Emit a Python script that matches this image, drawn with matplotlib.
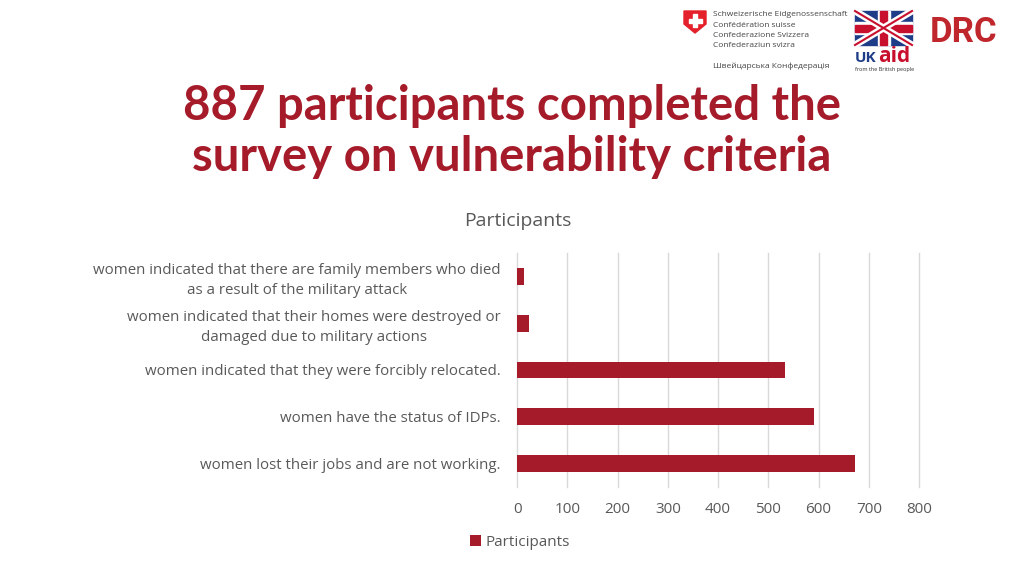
import matplotlib
matplotlib.use("Agg")
import matplotlib.pyplot as plt
from matplotlib.patches import Rectangle, Polygon

categories = [
    "women indicated that there are family members who died\nas a result of the military attack",
    "women indicated that their homes were destroyed or\ndamaged due to military actions",
    "women indicated that they were forcibly relocated.",
    "women have the status of IDPs.",
    "women lost their jobs and are not working.",
]
values = [14, 24, 533, 591, 672]
xticks = [0, 100, 200, 300, 400, 500, 600, 700, 800]
series_name = "Participants"

bar_color = "#A61B29"
text_gray = "#595959"
plt.rcParams['font.family'] = ['Open Sans', 'DejaVu Sans']

fig = plt.figure(figsize=(10.24, 5.76), dpi=100)
ax = fig.add_axes([0.505, 0.1545, 0.3925, 0.4065])

ypos = list(range(len(categories)))
ax.barh(ypos, values, height=0.36, color=bar_color, label=series_name)
ax.set_ylim(len(categories) - 0.5, -0.5)
ax.set_xlim(0, 800)
ax.set_xticks(xticks)
ax.set_xticklabels([str(t) for t in xticks], color=text_gray, fontsize=11)
ax.set_yticks(ypos)
ax.set_yticklabels(categories, color=text_gray, fontsize=10.8, linespacing=1.4,
                   multialignment='center')
ax.tick_params(axis='x', length=0, pad=11)
ax.tick_params(axis='y', length=0, pad=12)
for s in ax.spines.values():
    s.set_visible(False)
ax.grid(axis='x', color="#D9D9D9", linewidth=1)
for gl in ax.get_xgridlines():
    gl.set_clip_on(False)
ax.set_axisbelow(True)

fig.text(0.506, 0.617, "Participants", ha='center', va='center', fontsize=14, color=text_gray)

leg = fig.legend(loc='center', bbox_to_anchor=(0.508, 0.058), frameon=False, fontsize=11,
                 handlelength=0.7, handleheight=0.7, handletextpad=0.3)
for t in leg.get_texts():
    t.set_color(text_gray)

fig.text(0.5, 0.772, "887 participants completed the\nsurvey on vulnerability criteria",
         ha='center', va='center', fontsize=34, fontweight='bold', color="#A61B29",
         family=['Lato', 'DejaVu Sans'], linespacing=1.2)

# Logos (approximate)
lax = fig.add_axes([0, 0, 1, 1], zorder=-1)
lax.set_xlim(0, 1024)
lax.set_ylim(576, 0)
lax.axis('off')
# Swiss shield
lax.add_patch(Polygon([[684, 11], [706, 11], [706, 24], [695, 33], [684, 24]], closed=True,
                      color="#E4202A"))
lax.add_patch(Rectangle((693, 14), 4, 13, color='white'))
lax.add_patch(Rectangle((688.5, 18.5), 13, 4, color='white'))
swiss = ["Schweizerische Eidgenossenschaft", "Confédération suisse",
         "Confederazione Svizzera", "Confederaziun svizra"]
for i, s in enumerate(swiss):
    lax.text(713, 15 + i * 10.3, s, fontsize=6, color="#444444", va='center')
lax.text(713, 66, "Швейцарська Конфедерація", fontsize=6, color="#444444", va='center')
# UK flag
fx, fy, fw, fh = 855, 11, 57, 34
lax.add_patch(Rectangle((fx, fy), fw, fh, color="#1F3C88"))
lax.plot([fx, fx + fw], [fy, fy + fh], color='white', lw=5)
lax.plot([fx, fx + fw], [fy + fh, fy], color='white', lw=5)
lax.plot([fx, fx + fw], [fy, fy + fh], color="#C8102E", lw=1.5)
lax.plot([fx, fx + fw], [fy + fh, fy], color="#C8102E", lw=1.5)
lax.add_patch(Rectangle((fx + fw / 2 - 6, fy), 12, fh, color='white'))
lax.add_patch(Rectangle((fx, fy + fh / 2 - 6), fw, 12, color='white'))
lax.add_patch(Rectangle((fx + fw / 2 - 3.5, fy), 7, fh, color="#C8102E"))
lax.add_patch(Rectangle((fx, fy + fh / 2 - 3.5), fw, 7, color="#C8102E"))
lax.text(855, 58, "UK", fontsize=11, fontweight='bold', color="#1F3C88", va='center')
lax.text(878, 56, "aid", fontsize=15, fontweight='bold', color="#C8102E", va='center')
lax.text(855, 70, "from the British people", fontsize=4, color="#333333", va='center')
lax.text(964, 33, "DRC", fontsize=25, fontweight='bold', color="#C0272D", ha='center', va='center',
         family=['Roboto', 'DejaVu Sans'])

fig.savefig("out.png", dpi=100)
